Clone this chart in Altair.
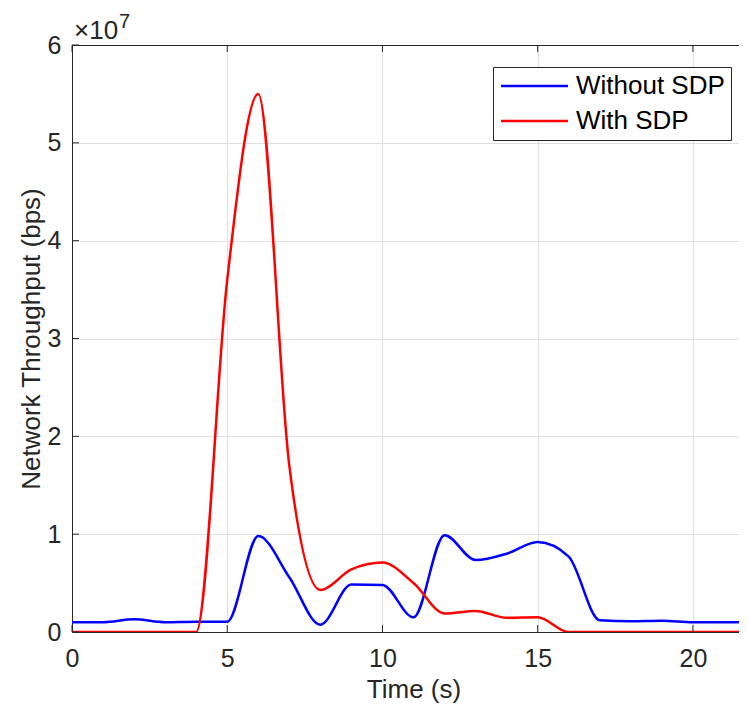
import altair as alt
import pandas as pd

# ---- data ----
time_s = [0, 1, 2, 3, 4, 5, 6, 7, 8, 9, 10, 11, 12, 13, 14, 15, 16, 17, 18, 19, 20, 21, 22]
without_sdp = [1.0e6, 1.0e6, 1.3e6, 1.0e6, 1.05e6, 1.05e6, 9.8e6, 5.6e6, 0.75e6, 4.85e6, 4.8e6,
               1.5e6, 9.9e6, 7.35e6, 8.0e6, 9.2e6, 7.7e6, 1.2e6, 1.1e6, 1.15e6, 1.0e6, 1.0e6, 1.0e6]
with_sdp = [0, 0, 0, 0, 0, 3.6e7, 5.5e7, 1.7e7, 4.3e6, 6.4e6, 7.1e6,
            5.0e6, 1.9e6, 2.15e6, 1.45e6, 1.5e6, 0, 0, 0, 0, 0, 0, 0]
series_names = ["Without SDP", "With SDP"]
series_colors = ["#0000FF", "#FF0000"]
x_ticks = [0, 5, 10, 15, 20]
y_ticks = [0, 1e7, 2e7, 3e7, 4e7, 5e7, 6e7]
exp_base = ["×10"]
exp_power = ["7"]

PX_PER_S = 31.045
W, H = 667, 587
X_MAX = W / PX_PER_S  # visible part of the axis (reference is cropped at the right)
FONT = "Liberation Sans"
INK = "#262626"

df_blue = pd.DataFrame({"t": time_s, "v": without_sdp, "s": series_names[0]})
df_red = pd.DataFrame({"t": time_s, "v": with_sdp, "s": series_names[1]})

xscale = alt.Scale(domain=[0, X_MAX], nice=False, zero=False)
yscale = alt.Scale(domain=[0, 6e7], nice=False)
cscale = alt.Scale(domain=series_names, range=series_colors)

xaxis = alt.Axis(values=x_ticks, title="Time (s)", grid=True, gridColor="#e0e0e0",
                 domain=True, domainColor=INK, ticks=False, labelFontSize=25, labelColor=INK,
                 labelFont=FONT, labelPadding=14, titleFontSize=26, titleFont=FONT,
                 titleFontWeight="normal", titleColor=INK, titleX=11 * PX_PER_S, titleY=65,
                 titleBaseline="alphabetic", titleAlign="center", labelFlush=False)
yaxis = alt.Axis(values=y_ticks, title="Network Throughput (bps)", grid=True, gridColor="#e0e0e0",
                 domain=True, domainColor=INK, ticks=False, labelFontSize=25, labelColor=INK,
                 labelFont=FONT, labelPadding=11, labelExpr="datum.value / 10000000",
                 titleFontSize=26, titleFont=FONT, titleFontWeight="normal", titleColor=INK,
                 titleX=-33, titleY=H / 2, titleAngle=270, titleBaseline="alphabetic",
                 titleAlign="center", labelFlush=False)

legend = alt.Legend(title=None, orient="none", legendX=421, legendY=22, padding=6,
                    strokeColor=INK, fillColor="white", cornerRadius=0,
                    symbolType="M-1,0H5.09", symbolSize=484, symbolStrokeWidth=2.5,
                    labelOffset=51, labelFontSize=26, labelFont=FONT, labelColor="black",
                    rowPadding=9, labelLimit=400)

def line_layer(df):
    return alt.Chart(df).mark_line(strokeWidth=2.5, interpolate="monotone", clip=True).encode(
        x=alt.X("t:Q", scale=xscale, axis=xaxis),
        y=alt.Y("v:Q", scale=yscale, axis=yaxis),
        color=alt.Color("s:N", scale=cscale, legend=legend),
    )

blue = line_layer(df_blue)
red = line_layer(df_red)

xt = pd.DataFrame({"t": x_ticks})
yt = pd.DataFrame({"v": y_ticks})
tick_bottom = alt.Chart(xt).mark_rule(color=INK, strokeWidth=1).encode(
    x=alt.X("t:Q", scale=xscale, axis=xaxis), y=alt.value(H), y2=alt.value(H - 7))
tick_top = alt.Chart(xt).mark_rule(color=INK, strokeWidth=1).encode(
    x=alt.X("t:Q", scale=xscale, axis=xaxis), y=alt.value(0), y2=alt.value(7))
tick_left = alt.Chart(yt).mark_rule(color=INK, strokeWidth=1).encode(
    y=alt.Y("v:Q", scale=yscale, axis=yaxis), x=alt.value(0), x2=alt.value(7))
top_border = alt.Chart(pd.DataFrame({"b": [0]})).mark_rule(color=INK, strokeWidth=1).encode(
    x=alt.value(0), x2=alt.value(W), y=alt.value(0.5))

exp1 = alt.Chart(pd.DataFrame({"txt": exp_base})).mark_text(
    font=FONT, fontSize=26, color=INK, align="left", baseline="alphabetic").encode(
    text="txt:N", x=alt.value(2), y=alt.value(-6))
exp2 = alt.Chart(pd.DataFrame({"txt": exp_power})).mark_text(
    font=FONT, fontSize=20, color=INK, align="left", baseline="alphabetic").encode(
    text="txt:N", x=alt.value(47), y=alt.value(-17))

chart = alt.layer(blue, red, tick_bottom, tick_top, tick_left, top_border, exp1, exp2).properties(
    width=W, height=H,
    autosize=alt.AutoSizeParams(type="none"),
    padding={"left": 64, "top": 37, "right": 0, "bottom": 71},
    background="white",
).configure_view(stroke=None)

chart.save("out.html", embed_options={"renderer": "svg", "actions": False})
